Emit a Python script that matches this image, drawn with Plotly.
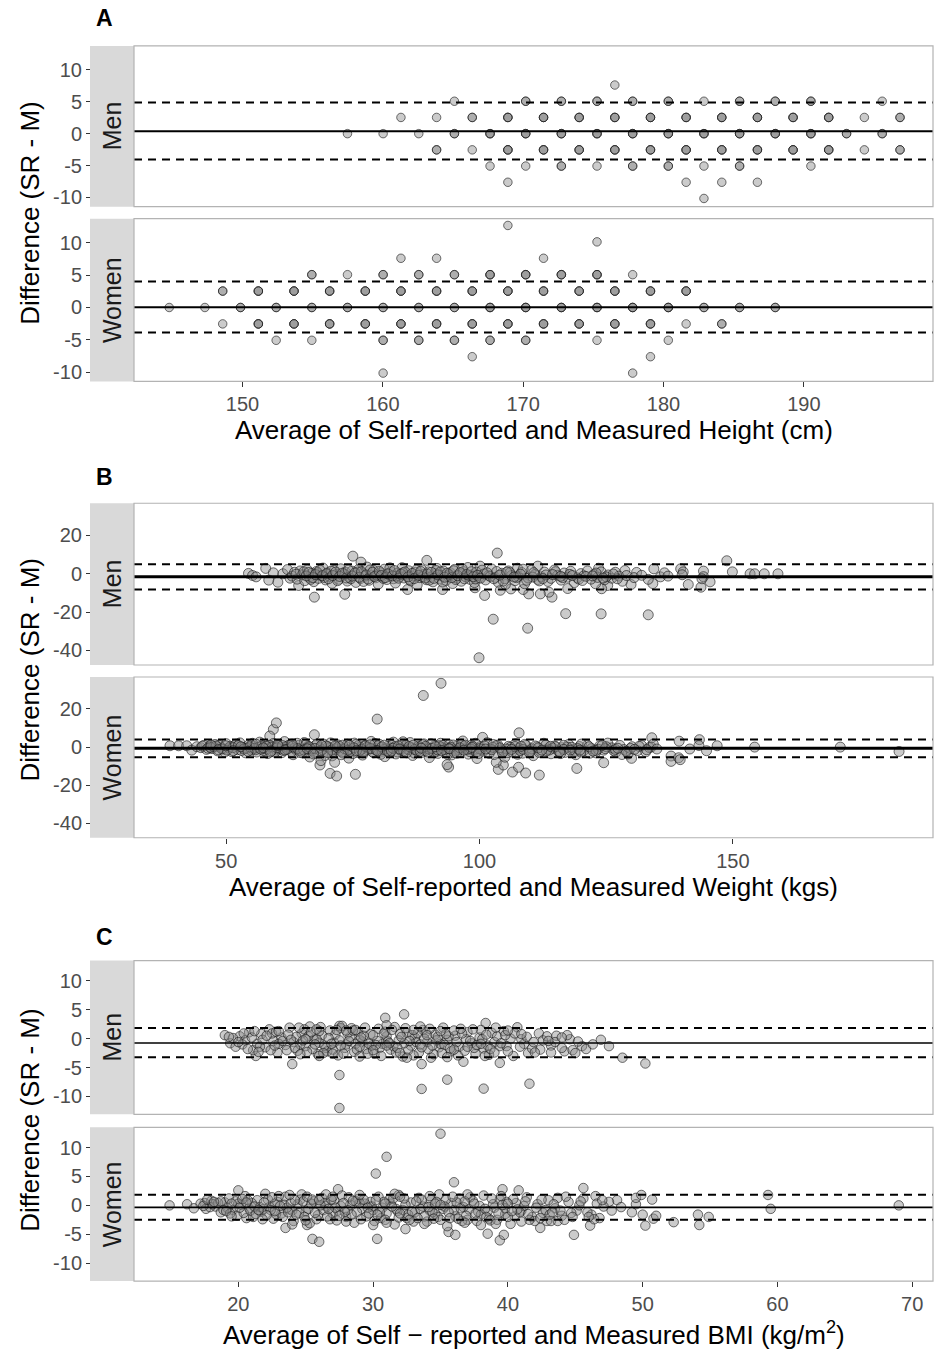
import plotly.graph_objects as go

# ---------------- DATA ----------------
# Panel A: height (cm). (x, y, count of overlapping observations)
a_men = [
    (157.48,0,1),(160.02,0,1),(162.56,0,1),(165.10,0,2),(167.64,0,3),(170.18,0,3),(172.72,0,3),(175.26,0,3),
    (177.80,0,3),(180.34,0,3),(182.88,0,3),(185.42,0,3),(187.96,0,3),(190.50,0,3),(193.04,0,2),(195.58,0,2),
    (161.29,2.54,1),(163.83,2.54,1),(166.37,2.54,2),(168.91,2.54,3),(171.45,2.54,3),(173.99,2.54,3),(176.53,2.54,3),
    (179.07,2.54,3),(181.61,2.54,3),(184.15,2.54,3),(186.69,2.54,3),(189.23,2.54,3),(191.77,2.54,3),(194.31,2.54,1),(196.85,2.54,2),
    (163.83,-2.54,2),(166.37,-2.54,1),(168.91,-2.54,3),(171.45,-2.54,3),(173.99,-2.54,3),(176.53,-2.54,3),(179.07,-2.54,3),
    (181.61,-2.54,3),(184.15,-2.54,3),(186.69,-2.54,3),(189.23,-2.54,3),(191.77,-2.54,3),(194.31,-2.54,1),(196.85,-2.54,2),
    (165.10,5.08,1),(170.18,5.08,2),(172.72,5.08,2),(175.26,5.08,2),(177.80,5.08,2),(180.34,5.08,2),(182.88,5.08,1),
    (185.42,5.08,2),(187.96,5.08,2),(190.50,5.08,2),(195.58,5.08,1),
    (167.64,-5.08,1),(170.18,-5.08,1),(172.72,-5.08,2),(175.26,-5.08,1),(177.80,-5.08,2),(180.34,-5.08,2),(182.88,-5.08,1),
    (185.42,-5.08,2),(190.50,-5.08,1),
    (176.53,7.62,1),(168.91,-7.62,1),(181.61,-7.62,1),(184.15,-7.62,1),(186.69,-7.62,1),(182.88,-10.16,1),
]
a_women = [
    (144.78,0,1),(147.32,0,1),(149.86,0,2),(152.40,0,2),(154.94,0,2),(157.48,0,2),(160.02,0,2),(162.56,0,2),(165.10,0,2),
    (167.64,0,3),(170.18,0,3),(172.72,0,3),(175.26,0,3),(177.80,0,3),(180.34,0,3),(182.88,0,2),(185.42,0,2),(187.96,0,2),
    (148.59,2.54,2),(151.13,2.54,3),(153.67,2.54,3),(156.21,2.54,3),(158.75,2.54,3),(161.29,2.54,3),(163.83,2.54,3),
    (166.37,2.54,3),(168.91,2.54,3),(171.45,2.54,3),(173.99,2.54,3),(176.53,2.54,3),(179.07,2.54,3),(181.61,2.54,3),
    (148.59,-2.54,1),(151.13,-2.54,3),(153.67,-2.54,3),(156.21,-2.54,3),(158.75,-2.54,3),(161.29,-2.54,3),(163.83,-2.54,3),
    (166.37,-2.54,3),(168.91,-2.54,3),(171.45,-2.54,3),(173.99,-2.54,3),(176.53,-2.54,3),(179.07,-2.54,3),(181.61,-2.54,1),(184.15,-2.54,2),
    (154.94,5.08,2),(157.48,5.08,1),(160.02,5.08,2),(162.56,5.08,2),(165.10,5.08,2),(167.64,5.08,3),(170.18,5.08,3),
    (172.72,5.08,3),(175.26,5.08,3),(177.80,5.08,1),
    (152.40,-5.08,1),(154.94,-5.08,1),(160.02,-5.08,2),(162.56,-5.08,2),(165.10,-5.08,2),(167.64,-5.08,2),(170.18,-5.08,2),
    (175.26,-5.08,1),(180.34,-5.08,1),
    (161.29,7.62,1),(163.83,7.62,1),(171.45,7.62,1),(166.37,-7.62,1),(179.07,-7.62,1),
    (175.26,10.16,1),(168.91,12.70,1),(160.02,-10.16,1),(177.80,-10.16,1),
]

# Panel B: weight (kg)
b_men = [
    (54.4,0.2),(55.2,-0.9),(55.9,-1.6),(57.8,2.8),(58.4,-3.3),(59.3,0.5),(60.2,-4.4),(61.2,0.0),(62.1,2.2),(62.6,-2.3),
    (64.3,-6.1),(67.4,-12.2),(73.4,-10.7),(75.0,9.2),(76.6,6.1),(89.6,7.0),(85.8,-8.2),(92.7,-8.2),(103.5,10.8),
    (99.9,-43.8),(102.7,-23.7),(109.5,-28.4),(101.0,-11.3),(117.0,-20.8),(124.0,-20.9),(133.3,-21.4),(148.8,6.8),
    (149.9,1.0),(153.4,0.0),(154.3,0.0),(156.2,0.0),(158.9,0.0),(139.7,2.6),(140.2,1.0),(140.0,-0.5),(141.2,-5.6),
    (143.7,-7.0),(144.2,1.4),(144.2,-1.5),(145.5,-4.2),(143.9,-2.6),(134.4,2.6),(135.7,-1.6),(134.2,-5.1),(133.3,-2.9),
    (131.0,0.7),(129.9,-5.6),(128.7,1.7),(125.3,-6.1),(124.1,-7.8),(122.9,-5.2),(123.5,2.9),(117.4,-7.7),(114.3,-12.2),
    (113.7,-9.6),(112.0,-10.5),(111.5,4.0),(109.7,-10.5),(108.6,-8.2),(106.2,-7.9),(104.1,-8.6),(105.1,-5.6),(99.1,-7.3),
    (107.5,2.9),(100.1,4.0),
    (63.0,-1.2),(63.5,0.8),(64.0,-2.8),(64.6,1.5),(65.0,-0.5),(65.5,-3.6),(66.0,2.0),(66.4,-1.8),(66.9,0.3),(67.3,-4.1),
    (67.8,1.2),(68.2,-2.4),(68.7,-0.8),(69.1,3.0),(69.6,-3.2),(70.0,0.5),(70.4,-1.5),(70.9,-5.0),(71.3,1.8),(71.8,-0.2),
    (72.2,-2.9),(72.6,2.6),(73.0,-1.0),(73.5,0.9),(73.9,-3.8),(74.3,-1.9),(74.8,1.4),(75.2,-0.6),(75.6,-4.5),(76.1,2.2),
    (76.5,-2.5),(76.9,0.1),(77.4,-1.3),(77.8,3.5),(78.2,-3.4),(78.7,-0.9),(79.1,1.7),(79.5,-2.1),(80.0,-5.4),(80.4,0.6),
    (80.8,-1.6),(81.2,2.4),(81.7,-3.0),(82.1,-0.3),(82.5,1.1),(83.0,-2.6),(83.4,-4.8),(83.8,0.4),(84.3,-1.4),(84.7,3.2),
    (85.1,-2.2),(85.6,-0.7),(86.0,1.6),(86.4,-3.7),(86.9,-1.1),(87.3,0.8),(87.7,-5.8),(88.2,-2.0),(88.6,2.1),(89.0,-0.4),
    (89.5,-3.1),(89.9,1.0),(90.3,-1.7),(90.8,-4.2),(91.2,0.2),(91.6,2.8),(92.1,-2.7),(92.5,-0.9),(92.9,1.4),(93.4,-3.5),
    (93.8,-1.3),(94.2,0.6),(94.7,-5.1),(95.1,2.3),(95.5,-2.3),(96.0,-0.1),(96.4,-3.9),(96.8,1.2),(97.3,-1.6),(97.7,3.3),
    (98.1,-2.9),(98.6,-0.5),(99.0,-4.6),(99.4,0.9),(99.9,-2.0),(100.5,1.9),(101.2,-3.2),(101.8,-0.8),(102.4,2.5),(103.1,-1.9),
    (103.7,-4.4),(104.4,0.3),(105.0,-2.6),(105.7,1.5),(106.3,-0.9),(107.0,-3.6),(107.6,-1.3),(108.3,0.7),(108.9,-5.2),
    (109.6,-2.2),(110.2,1.8),(110.9,-0.4),(111.5,-3.0),(112.2,-1.5),(112.8,0.9),(113.5,-4.0),(114.1,-2.4),(114.8,2.0),
    (115.4,-0.8),(116.1,-3.3),(116.7,0.4),(117.4,-1.8),(118.0,1.3),(118.7,-4.6),(119.3,-2.1),(120.0,0.1),(120.6,-1.0),
    (121.3,1.5),(122.0,-2.8),(122.6,-0.3),(123.3,-1.9),(124.0,1.0),(124.7,-3.1),(125.4,-0.6),(126.1,-2.3),(126.8,0.8),
    (127.5,-1.2),(128.2,-3.9),
    (63.8,-0.2),(65.3,1.0),(66.7,-2.9),(68.0,0.6),(69.3,-1.9),(70.7,1.4),(72.0,-3.6),(73.3,-0.1),(74.6,-2.6),(75.9,0.9),
    (77.1,-4.0),(78.4,2.0),(79.7,-0.6),(81.0,-2.4),(82.3,3.1),(83.6,-1.2),(84.9,0.5),(86.2,-2.9),(87.5,1.9),(88.8,-1.5),
    (90.1,-3.3),(91.4,1.7),(92.7,-4.3),(94.0,-0.4),(95.3,-3.0),(96.6,2.6),(97.9,-1.0),(99.2,-2.7),(100.9,-0.1),(102.1,-1.4),
    (103.4,1.2),(104.7,-3.8),(106.0,0.6),(107.3,-2.0),(108.6,2.4),(110.5,-1.7),(111.8,-3.7),(113.1,-0.6),(115.0,1.1),
    (116.4,-2.0),(117.8,-0.3),(119.6,-2.8),(121.0,-1.4),(123.0,0.4),(125.0,-1.6),(127.2,-2.6),(129.0,-0.9),(130.5,-2.0),
    (132.0,-0.8),(136.5,0.5),(137.2,-1.2),
    (65.8,-1.1),(66.3,0.7),(67.1,-2.0),(67.6,-0.4),(68.5,1.9),(69.0,-1.0),(69.8,0.0),(70.2,-2.6),(71.0,-0.9),(71.6,0.9),
    (72.4,-1.4),(72.9,0.3),(73.7,-2.2),(74.1,2.0),(74.9,-1.2),(75.4,0.4),(76.3,-1.8),(76.7,1.0),(77.6,-0.6),(78.0,-2.7),
    (78.9,0.8),(79.3,-1.4),(80.2,1.3),(80.6,-0.9),(81.4,-2.0),(81.9,0.0),(82.8,-1.1),(83.2,1.7),(84.0,-2.3),(84.5,-0.2),
    (85.3,1.0),(85.9,-1.6),(86.7,0.2),(87.1,-2.5),(88.0,-0.8),(88.4,1.2),(89.3,-2.2),(89.7,-0.1),(90.5,0.8),(91.0,-2.4),
    (91.8,-0.6),(92.3,1.0),(93.1,-1.8),(93.6,0.3),(94.5,-2.0),(94.9,1.6),(95.7,-1.0),(96.2,0.6),(97.0,-2.6),(97.5,-0.3),
    (98.4,1.1),(98.8,-1.5),(99.6,-0.8),(100.2,-2.3),(101.5,0.5),(102.8,-2.6),(104.0,-0.7),(105.4,0.9),(106.8,-1.7),
    (108.1,-0.2),(109.3,-3.4),(110.7,0.6),(112.5,-2.5),(114.4,-0.4),(116.0,-1.3),(118.3,-0.9),(120.3,-3.5),(122.3,-1.1),
    (124.4,-2.2),(126.4,-0.1),
]
b_women = [
    (38.9,0.7),(40.6,0.7),(42.2,0.7),(43.2,-1.6),(44.2,0.2),(59.3,9.3),(59.9,12.7),(58.6,5.8),(67.4,6.5),(68.5,-9.4),
    (70.5,-13.8),(71.8,-15.2),(75.5,-14.3),(79.8,14.7),(88.9,27.1),(92.4,33.5),(93.9,-10.5),(93.6,-9.2),(107.8,7.5),
    (100.6,5.1),(103.7,-11.7),(106.5,-13.1),(107.7,-10.6),(109.1,-13.6),(111.8,-14.7),(104.7,-9.4),(103.3,-8.0),
    (119.2,-11.2),(124.5,-8.2),(130.0,-5.9),(134.0,4.9),(133.9,0.0),(137.8,-4.7),(137.8,-7.5),(139.3,-5.6),(139.6,-6.6),
    (139.4,3.1),(141.5,-1.0),(143.4,3.9),(143.3,0.8),(144.8,-1.9),(146.9,0.7),(154.3,0.0),(171.2,0.0),(182.8,-2.3),
    (45.0,-0.3),(45.6,0.9),(46.1,-1.2),(46.7,0.3),(47.2,-0.8),(47.8,1.4),(48.3,-2.0),(48.9,0.0),(49.4,-1.1),(50.0,1.8),
    (50.5,-0.5),(51.1,-2.4),(51.6,0.7),(52.2,-1.4),(52.7,2.2),(53.3,-0.2),(53.8,-3.0),(54.4,1.0),(54.9,-1.7),
    (55.5,0.4),(56.0,-2.6),(56.6,2.6),(57.1,-0.9),(57.7,1.3),(58.2,-3.4),(58.8,-0.1),(59.3,1.9),(59.9,-1.6),(60.4,0.6),
    (61.0,-2.9),(61.5,2.9),(62.1,-0.7),(62.6,1.1),(63.2,-4.0),(63.7,-1.3),(64.3,0.9),(64.8,-2.2),
    (65.4,2.4),(65.9,-0.4),(66.5,-5.2),(67.0,-1.9),(67.6,0.8),(68.1,-3.5),(68.7,-7.1),(69.2,1.6),(69.8,-2.5),(70.3,-0.6),
    (70.9,-4.6),(71.4,-8.0),(72.0,1.2),(72.5,-1.8),(73.1,-3.2),(73.6,0.3),(74.2,-5.8),(74.7,-1.0),
    (75.3,2.1),(75.8,-2.8),(76.4,-0.2),(76.9,-4.2),(77.5,1.0),(78.0,-1.5),(78.6,3.0),(79.1,-3.0),(79.7,-0.8),(80.2,1.5),
    (80.8,-2.2),(81.3,-5.0),(81.9,0.4),(82.4,-1.2),(83.0,2.6),(83.5,-3.6),(84.1,-0.5),(84.6,1.2),
    (85.2,-2.4),(85.7,-0.9),(86.3,2.4),(86.8,-4.4),(87.4,-1.6),(87.9,0.5),(88.5,-2.9),(89.0,1.7),(89.6,-0.3),(90.1,-5.5),
    (90.7,-1.9),(91.2,0.9),(91.8,-3.3),(92.3,2.0),(92.9,-0.7),(93.4,-2.5),(94.0,1.3),(94.5,-4.1),(95.1,-1.1),(95.6,0.6),
    (96.2,-2.7),(96.7,3.2),(97.3,-0.4),(97.8,-3.7),(98.4,1.0),(98.9,-1.8),(99.5,-6.0),
    (100.1,0.2),(100.8,-2.1),(101.5,2.3),(102.2,-0.9),(102.9,-3.9),(103.6,1.1),(104.3,-1.5),(105.0,-5.3),(105.7,0.4),
    (106.4,-2.6),(107.1,1.8),(107.8,-0.6),(108.5,-3.2),(109.2,0.9),(109.9,-1.7),(110.6,-4.5),(111.3,0.1),(112.0,-2.3),
    (112.7,2.0),(113.4,-1.0),(114.1,-3.5),(114.8,0.6),(115.5,-1.9),(116.2,-0.3),(116.9,-2.8),(117.6,1.4),(118.3,-1.3),
    (119.0,-4.0),(119.7,0.3),
    (120.5,-2.0),(121.3,1.0),(122.1,-0.8),(122.9,-3.0),(123.7,0.6),(124.5,-1.6),(125.3,2.1),(126.1,-0.4),(126.9,-2.7),
    (127.7,0.9),(128.5,-1.3),(129.3,-3.6),(130.1,0.2),(131.2,-1.8),(132.0,0.8),(132.8,-2.5),(133.5,-0.2),(134.3,1.6),(135.0,-1.0),
    (45.3,0.5),(46.4,-0.6),(47.5,0.2),(48.6,1.0),(49.7,-2.6),(50.8,0.4),(51.9,1.5),(53.0,-1.8),(54.1,-0.6),(55.2,2.0),
    (56.3,-0.1),(57.4,-1.9),(58.5,1.0),(59.6,-2.7),(60.7,-0.9),(61.8,0.2),(62.9,-2.4),(64.0,2.0),(65.1,-3.1),(66.2,0.5),
    (67.3,-2.8),(68.4,-0.3),(69.5,-4.4),(70.6,2.2),(71.7,-1.3),(72.8,-2.6),(73.9,1.5),(75.0,-3.4),(76.1,0.8),(77.2,-2.0),
    (78.3,-0.5),(79.4,1.9),(80.5,-3.8),(81.6,-0.9),(82.7,0.9),(83.8,-2.6),(84.9,2.8),(86.0,-1.3),(87.1,-3.1),(88.2,0.1),
    (89.3,-1.9),(90.4,1.8),(91.5,-2.2),(92.6,-0.2),(93.7,-3.8),(94.8,1.1),(95.9,-1.5),(97.0,0.4),(98.1,-2.4),(99.2,2.0),
    (100.4,-1.2),(101.9,-3.3),(103.3,0.8),(104.8,-2.2),(106.1,-0.1),(107.5,-3.8),(108.9,1.4),(110.3,-0.9),(111.8,-2.9),
    (113.1,1.1),(114.5,-0.6),(116.0,-3.4),(117.3,0.0),(118.9,-2.2),(120.1,1.6),(121.8,-3.2),(123.4,-1.1),(125.0,0.2),
    (126.5,-1.9),(128.1,-3.9),(129.8,-0.7),(131.5,0.4),
    (55.8,-1.4),(57.0,0.6),(58.0,-1.1),(59.1,0.1),(60.1,1.3),(61.3,-1.8),(62.3,0.9),(63.5,-0.5),(64.5,-1.7),(65.7,1.1),
    (66.8,-1.0),(67.9,1.6),(69.0,-1.4),(70.1,0.2),(71.1,-2.3),(72.3,0.5),(73.4,-0.9),(74.5,-2.2),(75.6,1.4),(76.7,-1.2),
    (77.8,0.0),(78.9,-2.5),(80.0,0.7),(81.1,-1.3),(82.2,-3.0),(83.3,0.2),(84.4,-1.6),(85.5,1.0),(86.6,-0.4),(87.7,-2.0),
    (88.8,1.3),(89.9,-1.0),(91.0,-3.0),(92.0,0.7),(93.1,-1.4),(94.3,-0.1),(95.3,-2.0),(96.4,1.5),(97.6,-1.2),(98.7,0.3),
    (100.0,-0.8),(102.6,-0.1),(105.3,-1.0),(108.0,-1.8),(111.0,0.6),(113.8,-1.5),(116.6,0.9),(119.4,-0.8),
    (46.9,-0.2),(48.0,0.6),(49.1,-0.9),(50.2,-1.6),(51.3,-0.3),(52.4,0.8),(53.5,-1.0),(54.6,0.2),(55.6,-0.6),(56.8,-1.1),
    (57.9,0.4),(58.9,-2.0),(60.0,-0.4),(61.1,0.8),(62.0,-1.2),(63.1,0.4),(64.1,-0.8),(65.3,-1.5),(66.4,0.1),(67.5,-0.7),
    (68.6,-2.0),(69.7,0.6),(70.8,-1.6),(71.9,-0.3),(73.0,1.0),(74.0,-1.6),(75.2,-0.4),(76.3,-2.0),(77.4,0.5),(78.5,-0.8),
    (79.6,-1.7),(80.7,0.1),(81.8,-2.0),(82.9,-0.6),(84.0,0.6),(85.0,-1.9),(86.1,0.3),(87.2,-1.2),(88.3,-2.2),(89.4,0.4),
    (90.6,-0.7),(91.7,-1.4),(92.8,0.9),(93.9,-0.8),(95.0,-2.9),(96.1,-0.4),(97.2,1.0),(98.3,-1.0),(99.4,-2.6),(101.0,0.6),
    (102.4,-1.4),(104.0,-0.4),(105.6,-2.9),(107.0,0.3),(108.6,-1.2),(110.0,-2.4),(111.6,-0.4),(113.2,-2.0),(115.0,0.2),
    (116.6,-1.2),(118.2,-0.1),(120.0,-2.6),(121.6,0.2),(123.0,-1.8),(124.8,-0.8),(126.8,-1.2),(129.0,-2.2),
    (47.0,1.1),(48.4,-1.4),(49.9,0.7),(51.4,-1.9),(52.9,0.2),(54.3,-2.2),(55.9,1.5),(57.3,-0.4),(58.7,-2.6),(60.2,0.9),
    (61.6,-1.5),(63.0,1.6),(64.6,-2.9),(66.0,-0.9),(67.2,-3.6),(68.8,0.9),(70.0,-2.9),(71.5,0.6),(72.7,-4.0),(74.3,0.9),
    (75.7,-1.9),(77.0,-3.0),(78.4,1.2),(79.9,-2.0),(81.2,1.0),(82.6,-2.0),(84.2,-1.0),(85.6,-3.0),(86.9,1.0),(88.5,-0.6),
    (89.8,-2.6),(91.3,0.2),(92.5,-1.8),(94.1,-0.9),(95.5,-3.2),(96.9,-1.6),(98.5,-0.2),(99.8,-3.4),(101.2,-1.0),(102.7,1.4),
    (104.5,-3.0),(106.3,-1.2),(108.2,0.4),(109.8,-2.8),(112.3,-1.6),(114.0,0.4),(115.8,-2.4),(117.9,-1.6),(119.8,-1.6),
    (122.4,-2.1),(124.2,0.9),(127.3,-0.6),(130.6,-1.2),(133.0,-1.4),
]

# Panel C: BMI (kg/m^2)
c_men = [
    (21.3,-3.0),(24.0,-4.4),(27.5,-6.3),(27.5,-12.0),(30.9,3.6),(32.3,4.2),(33.6,-8.7),(35.5,-7.1),(33.6,-4.4),
    (38.35,2.7),(38.2,-8.65),(41.6,-7.8),(39.4,-4.2),(48.5,-3.3),(50.2,-4.3),(27.5,2.2),(27.6,1.8),
    (19.0,0.6),(19.4,-0.8),(19.8,-1.4),(20.1,0.4),(20.5,-0.3),(20.8,1.1),(21.1,-2.0),(21.4,-0.9),(21.7,0.8),(22.0,-1.5),
    (22.3,1.6),(22.6,-0.4),(22.9,-2.4),(23.2,0.2),(23.5,-1.1),(23.8,1.9),
    (24.1,-0.6),(24.4,-2.1),(24.7,0.9),(25.0,-1.3),(25.3,2.1),(25.6,-0.2),(25.9,-2.7),(26.2,0.6),(26.5,-1.6),(26.8,1.4),
    (27.1,-0.7),(27.4,-2.9),(27.7,2.2),(28.0,-1.0),(28.3,0.3),(28.6,-2.3),(28.9,1.2),(29.2,-0.5),(29.5,-1.8),(29.8,0.8),
    (30.1,-2.6),(30.4,1.7),(30.7,-0.9),(31.0,0.4),(31.3,-1.9),(31.6,2.0),(31.9,-0.3),(32.2,-3.1),(32.5,1.0),(32.8,-1.2),
    (33.1,0.2),(33.4,-2.4),(33.7,1.5),(34.0,-0.6),(34.3,-3.3),(34.6,0.7),(34.9,-1.5),(35.2,1.9),(35.5,-0.2),(35.8,-2.2),
    (36.1,0.5),(36.4,-1.4),(36.7,-4.0),(37.0,1.1),(37.3,-0.8),(37.6,-2.6),(37.9,0.2),(38.2,-1.7),(38.5,-1.2),(38.8,1.0),
    (39.0,-0.6),(39.4,-1.3),(39.7,1.3),(40.2,0.0),(40.7,1.96),(41.2,-0.9),(41.5,-2.5),(42.3,0.9),(43.2,-1.2),(43.2,-2.4),
    (43.6,0.5),(44.2,-2.2),(44.6,-0.1),(44.8,-2.0),(45.0,-2.5),(45.5,-1.3),
    (19.6,0.1),(20.3,-1.0),(21.0,0.2),(21.8,-0.2),(22.5,0.9),(23.0,-0.9),(23.6,-2.0),(24.3,0.3),(24.9,1.6),(25.5,-1.8),
    (26.0,-0.7),(26.6,-2.2),(27.2,0.7),(27.9,-1.6),(28.4,1.8),(29.0,-0.2),(29.6,-2.6),(30.3,-0.4),(30.9,1.2),(31.5,-1.3),
    (32.0,0.8),(32.6,-2.0),(33.2,-0.6),(33.9,1.1),(34.5,-2.7),(35.0,-0.9),(35.6,0.4),(36.3,-2.9),(36.9,-0.1),(37.5,-1.6),
    (38.0,1.5),(38.6,-2.8),(39.2,0.4),(39.9,-1.3),(40.4,-3.0),(41.0,-0.1),(41.8,-1.7),(42.6,-0.3),
    (24.6,-1.0),(25.2,0.4),(25.8,-0.1),(26.4,-1.2),(27.0,-1.9),(27.5,-0.3),(28.1,0.9),(28.7,-0.9),(29.3,0.5),(29.9,-1.2),
    (30.5,-1.6),(31.1,-0.5),(31.7,-2.4),(32.3,-0.8),(32.9,0.6),(33.5,-1.0),(34.1,-1.8),(34.7,-0.3),(35.3,-1.1),
    (19.3,0.3),(20.0,-0.6),(20.7,-1.8),(21.2,1.3),(21.6,-1.4),(22.1,0.5),(22.4,-2.0),(22.8,1.2),(23.3,-0.4),(23.7,0.7),
    (24.2,-1.6),(24.5,1.9),(24.8,-0.3),(25.1,-2.3),(25.4,1.1),(25.7,-1.0),(26.1,2.0),(26.3,-2.5),(26.7,0.1),(26.9,-0.9),
    (27.3,1.5),(27.6,-1.2),(27.8,-2.6),(28.2,-0.4),(28.5,1.4),(28.8,-1.9),(29.1,0.2),(29.4,1.9),(29.7,-0.9),(30.0,0.6),
    (30.2,-1.1),(30.6,-3.0),(30.8,0.9),(31.2,-0.8),(31.4,1.5),(31.8,-1.6),(32.1,0.3),(32.4,1.8),(32.7,-0.4),(33.0,-2.9),
    (33.3,0.9),(33.6,-1.5),(33.8,0.0),(34.2,1.7),(34.4,-1.2),(34.8,0.3),(35.1,-2.5),(35.4,0.8),(35.7,-1.7),(36.0,1.4),
    (36.2,-0.6),(36.6,0.9),(36.8,-2.1),(37.2,-0.4),(37.4,1.6),(37.7,-1.1),(38.1,-0.1),(38.4,0.7),(38.7,-1.8),(39.1,1.9),
    (39.5,-0.8),(39.8,0.6),(40.0,-2.2),(40.5,0.9),(40.9,-1.4),(41.4,0.3),(41.9,-0.6),(42.4,-1.9),(42.9,0.4),(43.5,-0.6),
    (44.0,-1.6),(44.4,0.6),(45.2,-0.5),(45.8,-1.8),(46.3,-1.0),(46.9,-0.2),(47.5,-1.3),
    (20.4,0.9),(21.5,-2.3),(22.7,-1.2),(23.9,-0.2),(25.0,-0.1),(26.0,1.3),(27.0,-2.6),(28.0,1.4),(29.0,-1.4),(30.0,-2.0),
    (31.0,-1.2),(32.0,-2.5),(33.0,1.5),(34.0,0.6),(35.0,1.3),(36.0,-1.9),(37.0,-1.4),(38.0,-0.9),(39.0,-2.4),(40.0,1.4),
    (41.0,0.8),(42.0,-2.4),(43.0,-0.4),(44.0,0.2),(23.0,1.3),(25.8,1.6),(28.7,1.5),(31.0,2.3),(33.5,2.1),(36.5,1.7),
    (26.0,-3.0),(29.0,-3.1),(32.5,-3.3),(35.5,-3.2),(38.3,-3.0),(24.6,-2.7),
]
c_women = [
    (14.9,0.0),(16.2,0.2),(16.7,-0.5),(17.5,0.4),(20.0,2.6),(23.5,-3.9),(25.5,-5.8),(26.0,-6.3),(27.4,2.8),(30.2,5.5),
    (31.0,8.4),(30.3,-5.8),(35.0,12.4),(36.0,4.0),(35.6,-4.6),(36.1,-5.1),(32.4,-4.1),(20.6,-2.2),(25.1,-3.4),(45.6,3.0),
    (44.9,-5.1),(39.4,-6.05),(39.7,-5.1),(38.5,-4.9),(40.8,2.6),(39.6,2.8),(42.4,-3.9),(42.9,-2.7),(43.2,-2.7),(43.7,-2.7),
    (46.1,-3.5),(46.8,-2.2),(48.1,0.9),(49.2,-1.2),(49.5,0.2),(49.5,1.3),(49.9,1.8),(50.0,-1.6),(50.2,-3.5),(50.7,1.0),
    (50.8,-2.3),(51.0,-1.8),(52.3,-2.9),(54.1,-1.6),(54.2,-3.4),(54.9,-2.0),(59.3,1.8),(59.5,-0.6),(69.0,0.0),(47.5,0.6),(46.5,1.6),
    (17.2,0.3),(17.6,-0.6),(18.0,0.8),(18.3,-0.2),(18.7,-1.2),(19.0,0.5),(19.3,1.2),(19.6,-0.8),(19.9,-1.8),(20.2,0.1),
    (20.5,1.6),(20.8,-0.5),(21.1,-2.0),(21.4,0.9),(21.7,-1.1),(22.0,2.0),
    (22.3,-0.3),(22.6,-2.3),(22.9,0.6),(23.2,-1.4),(23.5,1.5),(23.8,-0.7),(24.1,-2.7),(24.4,0.2),(24.7,1.9),(25.0,-1.0),
    (25.3,-3.1),(25.6,0.7),(25.9,-1.7),(26.2,1.3),(26.5,-0.1),(26.8,-2.4),
    (27.1,0.9),(27.4,-0.9),(27.7,1.7),(28.0,-2.0),(28.3,0.1),(28.6,-3.0),(28.9,1.1),(29.2,-0.6),(29.5,-1.9),(29.8,0.6),
    (30.1,-2.7),(30.4,1.5),(30.7,-0.4),(31.0,-1.4),(31.3,0.3),(31.6,-3.3),
    (31.9,1.8),(32.2,-0.8),(32.5,-2.2),(32.8,0.5),(33.1,-1.2),(33.4,1.3),(33.7,-0.2),(34.0,-2.8),(34.3,0.9),(34.6,-1.5),
    (34.9,1.9),(35.2,-0.6),(35.5,-3.6),(35.8,0.4),(36.1,-1.9),(36.4,1.2),
    (36.7,-0.3),(37.0,-2.5),(37.4,0.8),(37.8,-1.1),(38.2,1.7),(38.6,-2.3),(39.0,-0.4),(39.4,1.0),(39.8,-1.5),(40.2,-3.2),
    (40.6,0.4),(41.0,-0.9),(41.4,1.4),(41.8,-2.0),(42.2,0.2),(42.6,-1.3),(43.0,0.9),(43.5,-0.5),(44.0,-1.8),(44.5,0.6),
    (45.1,-0.9),(45.6,1.2),(46.2,-1.6),(46.6,0.3),(47.1,-0.2),
    (17.9,-0.3),(18.5,0.4),(19.2,-0.5),(19.8,0.7),(20.4,-1.3),(21.0,0.4),(21.6,-0.3),(22.2,1.0),(22.8,-1.5),(23.4,0.1),
    (24.0,-0.9),(24.6,1.0),(25.2,-0.6),(25.8,-2.4),(26.4,0.4),(27.0,-1.4),(27.6,-0.1),(28.2,1.4),(28.8,-1.2),(29.4,0.3),
    (30.0,-0.8),(30.6,-2.2),(31.2,1.0),(31.8,-1.0),(32.4,0.1),(33.0,-2.8),(33.6,1.0),(34.2,-0.9),(34.8,-2.0),(35.4,1.0),
    (36.0,-0.8),(36.6,-2.7),(37.2,1.4),(37.9,-0.1),(38.5,-1.0),(39.2,-2.5),(39.9,0.6),(40.5,-1.9),(41.2,-0.1),(42.0,-2.7),
    (42.8,-0.8),(43.7,1.3),(44.7,-1.3),
    (20.0,0.3),(20.9,-0.9),(21.9,-0.6),(22.7,0.3),(23.6,-0.4),(24.5,-1.3),(25.4,0.3),(26.3,-0.8),(27.2,-0.4),(28.1,-0.8),
    (29.0,0.4),(29.9,-0.2),(30.8,0.6),(31.7,-0.6),(32.6,-1.6),(33.5,-0.6),(34.4,-1.2),(35.3,-0.2),(36.2,0.5),(37.1,-0.7),
    (38.0,-1.6),(38.9,0.2),(39.8,-0.5),
    (17.4,-0.1),(18.1,0.2),(18.9,-0.8),(19.5,0.3),(20.1,-0.4),(20.7,0.9),(21.3,-1.5),(21.9,0.5),(22.4,-0.8),(23.0,1.6),
    (23.3,-2.0),(23.9,0.4),(24.3,-1.6),(24.8,0.7),(25.1,1.5),(25.7,-1.3),(26.1,0.0),(26.6,-1.9),(26.9,1.0),(27.3,-2.6),
    (27.8,0.4),(28.4,-1.6),(28.7,0.7),(29.1,-2.4),(29.6,-0.4),(30.2,0.9),(30.5,-1.2),(30.9,-2.5),(31.4,-0.2),(31.9,-2.1),
    (32.3,1.2),(32.9,-1.1),(33.2,0.7),(33.8,-1.9),(34.1,-0.3),(34.7,0.6),(35.0,-2.5),(35.6,-1.2),(35.9,1.5),(36.5,-0.5),
    (36.9,-1.8),(37.5,0.3),(37.7,-2.7),(38.3,-0.6),(38.8,1.2),(39.3,-1.4),(39.6,0.1),(40.0,-2.0),(40.4,1.1),(40.9,-1.2),
    (41.3,0.7),(41.6,-2.5),(42.1,-0.4),(42.5,1.0),(43.1,-1.6),(43.4,0.2),(43.9,-0.9),(44.3,1.5),(44.8,-2.0),(45.3,0.0),
    (45.9,-1.2),(46.4,-2.4),(47.0,0.9),(47.7,-0.9),(48.4,-0.3),(17.7,1.0),(18.7,0.7),(19.4,-1.4),(20.3,1.1),(21.2,-0.2),
    (22.1,-1.7),(23.1,-0.1),(24.2,0.9),(25.5,1.0),(26.7,-0.6),(27.9,-1.1),(29.3,1.0),(30.3,-1.6),(31.5,1.2),(32.7,-2.5),
    (34.5,-2.3),(36.3,-2.3),(38.4,-2.0),(40.7,-0.7),
    (18.2,0.6),(19.1,-1.0),(20.6,0.5),(21.5,-0.8),(22.5,1.4),(23.7,-1.2),(24.9,-2.0),(26.0,0.9),(27.5,-1.8),(28.5,0.8),
    (29.7,-1.4),(30.9,0.3),(32.0,-1.4),(33.3,-2.2),(34.6,0.3),(35.7,-2.2),(36.8,0.7),(37.6,-1.4),(38.7,-2.6),(39.5,1.6),
    (40.3,-1.0),(41.5,-1.5),(42.4,-2.2),(43.3,-1.2),(44.2,-2.5),(45.4,0.7),(46.0,-2.0),(23.8,1.8),(26.5,1.9),(29.0,1.8),
    (31.6,2.0),(34.2,1.6),(37.0,1.9),(25.0,-2.6),(28.0,-2.8),(31.0,-3.0),(33.8,-3.2),(36.8,-3.0),(39.1,-3.2),(21.8,-2.4),
    (19.5,-1.9),(24.0,-3.3),(30.0,-3.4),(38.0,-3.4),(41.0,-2.8),(32.0,1.5),(27.0,1.5),(22.7,-1.0),(35.0,0.1),(40.0,0.3),
]

# Mean difference and 95% limits of agreement: (bias, upper, lower)
loa = {
    ("A", "Men"): (0.36, 4.90, -4.06),
    ("A", "Women"): (0.05, 4.03, -3.88),
    ("B", "Men"): (-1.6, 5.0, -8.2),
    ("B", "Women"): (-0.6, 4.0, -5.3),
    ("C", "Men"): (-0.75, 1.85, -3.23),
    ("C", "Women"): (-0.35, 1.84, -2.49),
}

panel_letters = ["A", "B", "C"]
sexes = ["Men", "Women"]
x_titles = [
    "Average of Self-reported and Measured Height (cm)",
    "Average of Self-reported and Measured Weight (kgs)",
    "Average of Self − reported and Measured BMI (kg/m<sup>2</sup>)",
]
y_title = "Difference (SR - M)"
x_ticks = [[150, 160, 170, 180, 190], [50, 100, 150], [20, 30, 40, 50, 60, 70]]
y_ticks = [[-10, -5, 0, 5, 10], [-40, -20, 0, 20], [-10, -5, 0, 5, 10]]
y_tick_text = [["-10", "-5", "0", "5", "10"], ["-40", "-20", "0", "20"], ["-10", "-5", "0", "5", "10"]]
x_ranges = [[142.27, 199.2], [31.8, 189.5], [12.26, 71.54]]
y_ranges = [[-11.45, 13.75], [-47.6, 36.8], [-13.1, 13.5]]

# ---------------- LAYOUT ----------------
W, H = 935, 1354
FONT = "Liberation Sans, Arial, sans-serif"
PLOT_L, PLOT_R, STRIP_L = 134, 933, 90
rows = [[(46, 207), (219, 382)], [(504, 666), (678, 839)], [(962, 1116), (1129, 1283)]]
letter_y = [18, 478, 938]
xtitle_y = [431, 888, 1335]
marker_sizes = [8.5, 10, 9.5]
mean_widths = [2, 3, 1.6]


def fy(p):
    return 1 - p / H


fig = go.Figure()
datasets = [(a_men, a_women), (b_men, b_women), (c_men, c_women)]
shapes, annotations = [], []

for pi, letter in enumerate(panel_letters):
    xname = "x" if pi == 0 else f"x{pi + 1}"
    xkey = "xaxis" if pi == 0 else f"xaxis{pi + 1}"
    for si, sex in enumerate(sexes):
        yi = pi * 2 + si + 1
        yname = "y" if yi == 1 else f"y{yi}"
        ykey = "yaxis" if yi == 1 else f"yaxis{yi}"
        top, bot = rows[pi][si]
        pts = datasets[pi][si]
        if pi == 0:
            xs, ys = [], []
            for x, y, n in pts:
                xs += [x] * n
                ys += [y] * n
        else:
            xs = [p[0] for p in pts]
            ys = [p[1] for p in pts]
        fig.add_trace(go.Scatter(
            x=xs, y=ys, mode="markers", xaxis=xname, yaxis=yname, showlegend=False, hoverinfo="skip",
            marker=dict(size=marker_sizes[pi], color="rgba(140,140,140,0.45)",
                        line=dict(color="rgba(20,20,20,0.6)", width=1)),
        ))
        fig.layout[ykey] = dict(
            domain=[fy(bot), fy(top)], anchor="free", position=STRIP_L / W,
            range=y_ranges[pi], tickvals=y_ticks[pi], ticktext=y_tick_text[pi], ticks="outside", ticklen=4,
            tickcolor="#333333", tickwidth=1, showgrid=False, zeroline=False, showline=False,
            tickfont=dict(family=FONT, size=20, color="#4d4d4d"), fixedrange=True,
        )
        shapes.append(dict(type="rect", xref="paper", yref="paper", x0=STRIP_L / W, x1=PLOT_L / W,
                           y0=fy(bot), y1=fy(top), fillcolor="#d9d9d9", line=dict(width=0), layer="below"))
        annotations.append(dict(text=sex, xref="paper", yref="paper", x=(STRIP_L + PLOT_L) / 2 / W,
                                y=fy((top + bot) / 2), showarrow=False, textangle=-90,
                                font=dict(family=FONT, size=25, color="#1a1a1a"),
                                xanchor="center", yanchor="middle"))
        bias, up, lo = loa[(letter, sex)]
        xdom = f"{xname} domain"
        shapes.append(dict(type="line", xref=xdom, yref=yname, x0=0, x1=1, y0=bias, y1=bias,
                           line=dict(color="black", width=mean_widths[pi]), layer="above"))
        for v in (up, lo):
            shapes.append(dict(type="line", xref=xdom, yref=yname, x0=0, x1=1, y0=v, y1=v,
                               line=dict(color="black", width=2, dash="8px,6px"), layer="above"))
        shapes.append(dict(type="rect", xref="paper", yref="paper", x0=PLOT_L / W, x1=PLOT_R / W,
                           y0=fy(bot), y1=fy(top), line=dict(color="#b3b3b3", width=1.2), layer="above"))
    anchor_y = f"y{pi * 2 + 2}"
    fig.layout[xkey] = dict(
        domain=[PLOT_L / W, PLOT_R / W], anchor=anchor_y, range=x_ranges[pi], tickvals=x_ticks[pi],
        ticks="outside", ticklen=5, tickcolor="#333333", tickwidth=1, showgrid=False, zeroline=False,
        showline=False, tickfont=dict(family=FONT, size=20, color="#4d4d4d"), fixedrange=True,
    )
    annotations.append(dict(text=f"<b>{letter}</b>", xref="paper", yref="paper", x=94 / W, y=fy(letter_y[pi]),
                            xanchor="left", yanchor="middle", showarrow=False,
                            font=dict(family=FONT, size=23, color="black")))
    annotations.append(dict(text=x_titles[pi], xref="paper", yref="paper", x=(PLOT_L + PLOT_R) / 2 / W,
                            y=fy(xtitle_y[pi]), xanchor="center", yanchor="middle", showarrow=False,
                            font=dict(family=FONT, size=26, color="black")))
    ymid = (rows[pi][0][0] + rows[pi][1][1]) / 2
    annotations.append(dict(text=y_title, xref="paper", yref="paper", x=30 / W, y=fy(ymid),
                            xanchor="center", yanchor="middle", showarrow=False, textangle=-90,
                            font=dict(family=FONT, size=26, color="black")))

fig.update_layout(
    width=W, height=H, margin=dict(l=0, r=0, t=0, b=0),
    paper_bgcolor="white", plot_bgcolor="white",
    shapes=shapes, annotations=annotations, showlegend=False,
)
fig.write_html("out.html", config={"displayModeBar": False},
               post_script="document.body.style.margin='0px';")
